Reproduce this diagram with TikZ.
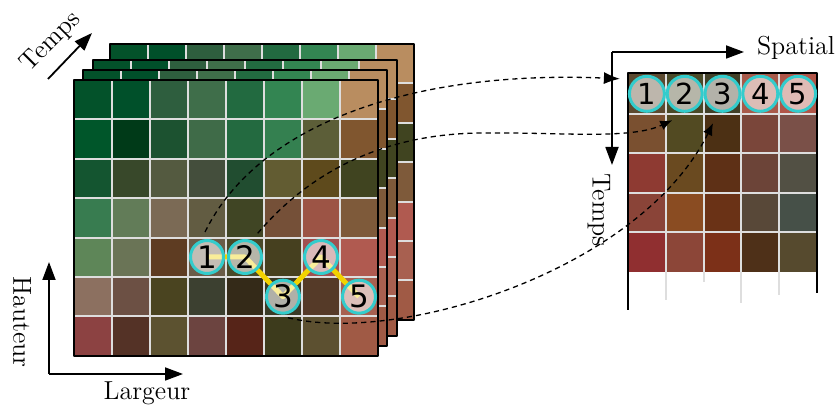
\documentclass[tikz,border=0pt]{standalone}
\usepackage{fontspec}
\newfontfamily\digitfont{DejaVu Sans}
\usetikzlibrary{arrows.meta}
\definecolor{spotcyan}{HTML}{33CCCC}
\definecolor{trailyellow}{HTML}{F2D200}
\pgfdeclarelayer{top}
\pgfsetlayers{main,top}
\begin{document}
\begin{tikzpicture}[x=0.5pt,y=-0.5pt,line join=round,>={Triangle[length=9pt,width=6.5pt]},
  cellline/.style={draw=black!13,line width=1pt},
  gridframe/.style={line width=1.2pt},
  axisarrow/.style={line width=0.9pt,->},
  flow/.style={line width=0.65pt,dash pattern=on 2.6pt off 2pt,-{Latex[length=6pt,width=5pt]}},
  spot/.style={circle,draw=spotcyan,line width=1.5pt,fill=white,fill opacity=0.6,text opacity=1,
    minimum size=16.5pt,inner sep=0pt,font=\digitfont\fontsize{15.5pt}{16pt}\selectfont},
  rspot/.style={spot,minimum size=17.5pt,font=\digitfont\fontsize{14.5pt}{15pt}\selectfont},
  trail/.style={draw=trailyellow,line width=2.5pt},
  axlabel/.style={font=\fontsize{13pt}{15pt}\selectfont}]
  \useasboundingbox (0,0) rectangle (836,405);
  % stacked frames, back to front
  \foreach \ox/\oy in {36/-36,19/-20,9/-10,0/0}{
    \begin{scope}[shift={(\ox,\oy)}]
      \foreach \rowc [count=\j from 0] in {
          {03522A,00502A,2E5E3E,3F6E4A,226A40,338552,6AAA72,B98D60},
          {00562A,003A18,1C5230,3F6B48,236A40,348050,5C5E38,80562F},
          {145530,38482A,545A40,444E3C,214D30,625C32,5E4A1C,404420},
          {387C50,627C58,7B6A55,625C42,404524,755038,9C5445,7E5A3A},
          {5E8658,6A7456,5E3C22,6A5C48,4A4A2A,46401F,A05050,B05A50},
          {8C7060,6C5044,4A4420,3C4030,342A18,3A3A26,553A28,A86050},
          {8C4242,543226,5C5230,6C4440,562418,3D3B1C,5C5030,A05A45}}{
        \foreach \c [count=\i from 0] in \rowc{
          \definecolor{cellc}{HTML}{\c}
          \fill[cellc] (74+38*\i,80+39.4*\j) rectangle ++(38,39.4);
        }
      }
      \foreach \i in {1,...,7} \draw[cellline] (74+38*\i,80) -- ++(0,275.8);
      \foreach \j in {1,...,6} \draw[cellline] (74,80+39.4*\j) -- ++(304,0);
      \draw[gridframe] (74,80) rectangle ++(304,275.8);
    \end{scope}
  }
  % spatial-temporal matrix
  \foreach \rowc [count=\j from 0] in {
      {5C4A30,4A4A28,424028,A85A4A,B05548},
      {7A5030,524A22,4C3014,7A463A,7A5048},
      {8E3A32,6A4A20,5E3016,6C4438,525044},
      {8A4438,8A4C22,6A3216,584838,465048},
      {902F30,8C4638,7C3018,4E3018,564A2E}}{
    \foreach \c [count=\i from 0] in \rowc{
      \definecolor{cellc}{HTML}{\c}
      \fill[cellc] (628+37.8*\i,74+39.6*\j) rectangle ++(37.8,39.6);
    }
  }
  \foreach \j in {1,...,4} \draw[cellline] (628,74+39.6*\j) -- ++(189,0);
  \foreach \i/\len in {1/300,2/282,3/303,4/295} \draw[cellline] (628+37.8*\i,74) -- (628+37.8*\i,\len);
  \draw[gridframe] (628,310) -- (628,73) -- (817,73) -- (817,293);

  \begin{pgfonlayer}{top}
    \foreach \k/\px/\py in {1/207/257,2/245/257,3/283/296.7,4/321/257,5/359/296.7}
      \node[spot] (c\k) at (\px,\py) {\k};
    \foreach \k in {1,...,5}
      \node[rspot] (r\k) at (609.1+37.8*\k,93.8) {\k};
  \end{pgfonlayer}
  \draw[trail] (c1.center) -- (c2.center) -- (c3.center) -- (c4.center) -- (c5.center);

  % axes
  \coordinate (o1) at (49,374);
  \coordinate (o2) at (612,52);
  \draw[axisarrow] (o1) -- (49,262);
  \draw[axisarrow] (o1) -- (183,374);
  \draw[axisarrow] (48,79) -- (92,33);
  \draw[axisarrow] (o2) -- (744,52);
  \draw[axisarrow] (o2) -- (612,165);
  \node[axlabel,rotate=45] (tempsL) at (51,42) {Temps};
  \node[axlabel,rotate=-90] (hauteur) at (22,322) {Hauteur};
  \node[axlabel,anchor=base] (largeur) at (147,400) {Largeur};
  \node[axlabel,anchor=base west] (spatial) at (750,55) {Spatial};
  \node[axlabel,rotate=-90] (tempsR) at (599,210) {Temps};

  % pixel to matrix links
  \draw[flow,-{Latex[length=8pt,width=6pt]}] ([shift={(-2,-7)}]c1.north) .. controls (260,120) and (420,70) .. ([shift={(-8,-15)}]r1.west);
  \draw[flow] ([shift={(0,-11)}]c2.north east) .. controls (320,160) and (400,134) .. (480,133)
    .. controls (560,132) and (630,140) .. ([shift={(1,13)}]r2.south west);
  \draw[flow] ([shift={(5,3)}]c3.south) .. controls (400,345) and (640,270) .. ([shift={(4,16)}]r3.south west);
\end{tikzpicture}
\end{document}
